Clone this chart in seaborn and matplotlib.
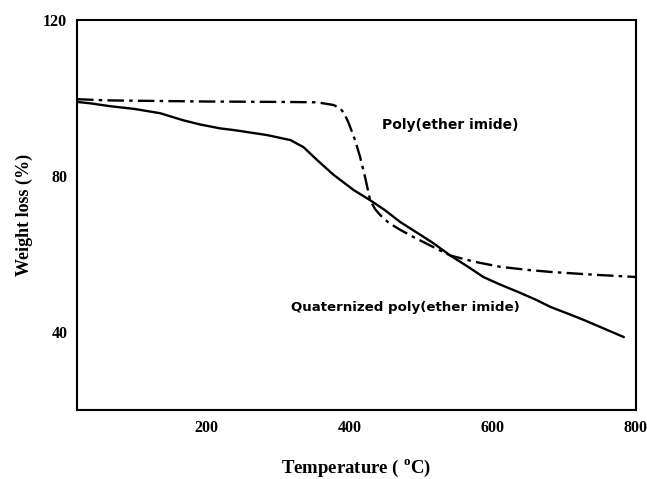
import matplotlib
matplotlib.use("Agg")
import matplotlib.pyplot as plt
import seaborn as sns
import pandas as pd

# Data
pei_temp = [20, 60, 100, 200, 300, 355, 378, 387, 393, 399, 408, 415, 422, 429, 436, 443, 455, 471, 490, 517, 541, 575, 611, 650, 681, 740, 800]
pei_wt = [99.7, 99.4, 99.3, 99.1, 99.0, 98.9, 98.2, 97.4, 96.0, 93.6, 89.2, 84.9, 79.7, 73.8, 71.5, 70.0, 68.0, 66.2, 64.3, 61.8, 59.6, 58.0, 56.7, 55.9, 55.4, 54.7, 54.1]

qpei_temp = [20, 40, 66, 100, 136, 168, 192, 220, 238, 285, 318, 336, 355, 378, 406, 429, 450, 471, 495, 517, 541, 565, 587, 610, 635, 660, 681, 705, 727, 755, 783]
qpei_wt = [99.0, 98.6, 97.9, 97.2, 96.1, 94.3, 93.2, 92.2, 91.8, 90.5, 89.2, 87.4, 84.1, 80.3, 76.4, 73.8, 71.2, 68.2, 65.4, 62.8, 59.6, 56.8, 54.1, 52.2, 50.3, 48.3, 46.4, 44.7, 43.1, 40.9, 38.7]

label_pei = "Poly(ether imide)"
label_qpei = "Quaternized poly(ether imide)"
x_ticks = [200, 400, 600, 800]
y_ticks = [40, 80, 120]

sns.set_theme(style="white")
plt.rcParams['font.family'] = ['Liberation Serif', 'DejaVu Serif']
plt.rcParams['mathtext.fontset'] = 'custom'
plt.rcParams['mathtext.rm'] = 'Liberation Serif:bold'
plt.rcParams['mathtext.bf'] = 'Liberation Serif:bold'
plt.rcParams['text.color'] = 'black'
plt.rcParams['axes.labelcolor'] = 'black'
plt.rcParams['xtick.color'] = 'black'
plt.rcParams['ytick.color'] = 'black'

fig = plt.figure(figsize=(6.47, 4.79), dpi=100)
ax = fig.add_axes([77/647, 1-410/479, (636-77)/647, (410-20)/479])

df_pei = pd.DataFrame({"T": pei_temp, "W": pei_wt})
df_qpei = pd.DataFrame({"T": qpei_temp, "W": qpei_wt})

sns.lineplot(data=df_qpei, x="T", y="W", ax=ax, color="black", linewidth=1.7, sort=False)
sns.lineplot(data=df_pei, x="T", y="W", ax=ax, color="black", linewidth=1.7, sort=False)
ax.lines[-1].set_linestyle((0, (7, 2.2, 1.5, 2.2)))

ax.set_xlim(20, 800)
ax.set_ylim(20, 120)
ax.set_xticks(x_ticks)
ax.set_yticks(y_ticks)
ax.tick_params(direction='in', length=4, width=1.3, colors='black', labelcolor='black', labelsize=11.5, pad=7)
for lab in ax.get_xticklabels() + ax.get_yticklabels():
    lab.set_fontweight('bold')
for sp in ax.spines.values():
    sp.set_visible(True)
    sp.set_color('black')
    sp.set_linewidth(1.5)

ax.set_xlabel(r"Temperature ( $^{\mathrm{o}}$C)", fontsize=13.5, fontweight='bold', color='black')
ax.set_ylabel("Weight loss (%)", fontsize=13, fontweight='bold', color='black')
ax.xaxis.set_label_coords(0.5, -0.15)
ax.yaxis.set_label_coords(-0.095, 0.5)
ax.xaxis.label.set_va('center')
ax.yaxis.label.set_va('center')

ax.text(446, 93, label_pei, fontsize=10, fontweight='bold', family='DejaVu Sans', va='center', ha='left', color='black')
ax.text(318, 46.2, label_qpei, fontsize=9.6, fontweight='bold', family='DejaVu Sans', va='center', ha='left', color='black')

fig.savefig("out.png", dpi=100)
